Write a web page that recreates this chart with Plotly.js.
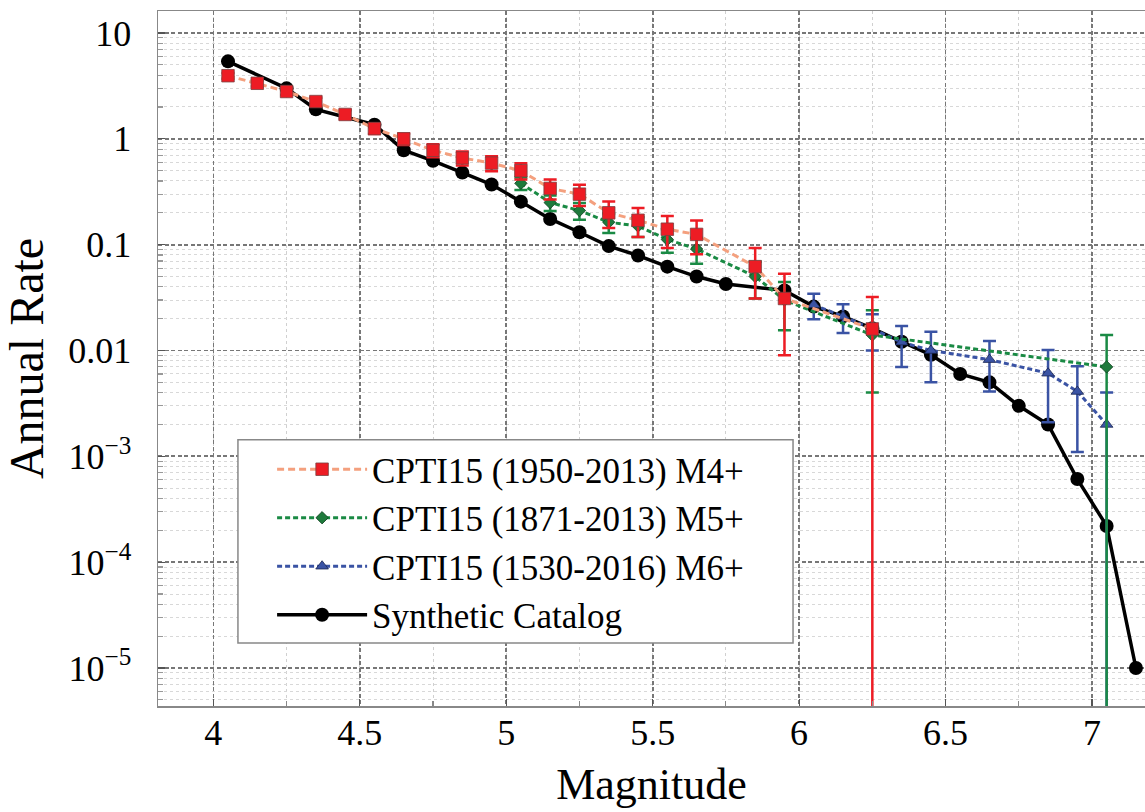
<!DOCTYPE html>
<html>
<head>
<meta charset="utf-8">
<script src="https://cdn.plot.ly/plotly-3.0.1.min.js"></script>
<style>
html,body{margin:0;padding:0;background:#fff;}
#chart{width:1145px;height:812px;}
</style>
</head>
<body>
<div id="chart"></div>
<script>
// ---- data ----
const redX   = [4.05,4.15,4.25,4.35,4.45,4.55,4.65,4.75,4.85,4.95,5.05,5.15,5.25,5.35,5.45,5.55,5.65,5.85,5.95,6.25];
const redY   = [3.95,3.35,2.8,2.25,1.7,1.25,1.0,0.78,0.66,0.59,0.50,0.34,0.30,0.20,0.17,0.14,0.125,0.062,0.031,0.016];
const redErr = [0.25,0.23,0.21,0.19,0.16,0.14,0.125,0.11,0.10,0.096,0.088,0.073,0.068,0.056,0.052,0.047,0.044,0.031,0.022,0.016];

const greenX   = [5.05,5.15,5.25,5.35,5.45,5.55,5.65,5.85,5.95,6.25,7.05];
const greenY   = [0.38,0.25,0.21,0.163,0.15,0.112,0.091,0.050,0.030,0.014,0.007];
const greenErr = [0.052,0.042,0.038,0.034,0.032,0.028,0.025,0.019,0.0145,0.010,0.007];

const blueX   = [6.05,6.15,6.25,6.35,6.45,6.65,6.85,6.95,7.05];
const blueY   = [0.027,0.021,0.016,0.012,0.010,0.0082,0.0061,0.0041,0.002];
const blueErr = [0.0073,0.0064,0.006,0.005,0.005,0.0041,0.0040,0.003,0.002];

const synX = [4.05,4.25,4.35,4.55,4.65,4.75,4.85,4.95,5.05,5.15,5.25,5.35,5.45,5.55,5.65,5.75,5.95,6.05,6.15,6.25,6.35,6.45,6.55,6.65,6.75,6.85,6.95,7.05,7.15];
const synY = [5.4,3.0,1.9,1.36,0.78,0.62,0.48,0.37,0.255,0.175,0.131,0.097,0.079,0.062,0.050,0.0425,0.037,0.026,0.021,0.0162,0.0121,0.0091,0.0060,0.0050,0.0030,0.0020,0.00061,0.00022,0.00001];

const xTickVals = [4,4.5,5,5.5,6,6.5,7];
const xTickText = ['4','4.5','5','5.5','6','6.5','7'];
const yTickVals = [10,1,0.1,0.01,1e-3,1e-4,1e-5];
const yTickText = ['10','1','0.1','0.01','10<sup>\u22123</sup>','10<sup>\u22124</sup>','10<sup>\u22125</sup>'];

const names = ['CPTI15 (1950-2013) M4+','CPTI15 (1871-2013) M5+','CPTI15 (1530-2016) M6+','Synthetic Catalog'];

// minor log tick positions (2..9 within each decade)
const yMinor = [];
for (let k = -6; k <= 1; k++) for (let m = 2; m <= 9; m++) yMinor.push(m * Math.pow(10, k));

const FONT = 'Liberation Serif, Times New Roman, serif';

const traces = [
  {
    x: synX, y: synY, name: names[3], legendrank: 4,
    mode: 'lines+markers', type: 'scatter',
    line: {color: '#000000', width: 3.5},
    marker: {symbol: 'circle', size: 14, color: '#000000'}
  },
  {
    x: blueX, y: blueY, name: names[2], legendrank: 3,
    mode: 'lines+markers', type: 'scatter',
    line: {color: '#3a53a4', width: 3, dash: '5px,3px'},
    marker: {symbol: 'triangle-up', size: 11, color: '#3a53a4', line: {color: '#1a2650', width: 0.8}},
    error_y: {type: 'data', array: blueErr, arrayminus: blueErr, visible: true, color: '#3a53a4', thickness: 2.5, width: 6.5}
  },
  {
    x: greenX, y: greenY, name: names[1], legendrank: 2,
    mode: 'lines+markers', type: 'scatter',
    line: {color: '#1a8a44', width: 3, dash: '5px,3px'},
    marker: {symbol: 'diamond', size: 9.5, color: '#1e7a3c', line: {color: '#0b3d1c', width: 0.8}},
    error_y: {type: 'data', array: greenErr, arrayminus: greenErr, visible: true, color: '#1a8a44', thickness: 2.5, width: 6.5}
  },
  {
    x: redX, y: redY, name: names[0], legendrank: 1,
    mode: 'lines+markers', type: 'scatter',
    line: {color: '#f4a07e', width: 3, dash: '7px,4px'},
    marker: {symbol: 'square', size: 12.5, color: '#ed1c24', line: {color: '#7a4040', width: 0.8}},
    error_y: {type: 'data', array: redErr, arrayminus: redErr, visible: true, color: '#ed1c24', thickness: 2.5, width: 6.5}
  }
];

const layout = {
  width: 1145, height: 812,
  margin: {l: 158, r: 0, t: 11, b: 106, pad: 0},
  paper_bgcolor: '#ffffff', plot_bgcolor: '#ffffff',
  font: {family: FONT, size: 36, color: '#000'},
  showlegend: true,
  // legend frame drawn as a white box in paper space
  shapes: [{
    type: 'rect', xref: 'paper', yref: 'paper', layer: 'above',
    x0: 0.081, x1: 0.6434, y0: 0.0907, y1: 0.383,
    fillcolor: '#ffffff', line: {color: '#888888', width: 1.5}
  }],
  legend: {
    x: 0.1156, y: 0.236, xanchor: 'left', yanchor: 'middle',
    bgcolor: 'rgba(0,0,0,0)', borderwidth: 0,
    font: {family: FONT, size: 35, color: '#000'},
    itemwidth: 90, tracegroupgap: 0
  },
  xaxis: {
    type: 'linear', range: [3.811, 7.181],
    tickmode: 'array', tickvals: xTickVals, ticktext: xTickText,
    ticks: 'inside', ticklen: 7, tickwidth: 1.2, tickcolor: '#555',
    showline: true, linecolor: '#888', linewidth: 1.5, mirror: true,
    showgrid: true, gridcolor: '#777', gridwidth: 1.7, griddash: '4px,2.5px',
    zeroline: false,
    tickfont: {family: FONT, size: 36, color: '#000'},
    ticklabelstandoff: -6,
    minor: {tickmode: 'linear', tick0: 4, dtick: 0.25, ticks: 'inside', ticklen: 5, tickcolor: '#888',
            showgrid: true, gridcolor: '#d0d0d0', griddash: 'dot', gridwidth: 1},
    title: {text: 'Magnitude', font: {family: FONT, size: 44, color: '#000'}, standoff: 16}
  },
  yaxis: {
    type: 'log', range: [-5.359, 1.208],
    tickmode: 'array', tickvals: yTickVals, ticktext: yTickText,
    ticks: 'inside', ticklen: 7, tickwidth: 1.2, tickcolor: '#555',
    showline: true, linecolor: '#888', linewidth: 1.5, mirror: false,
    showgrid: true, gridcolor: '#777', gridwidth: 1.7, griddash: '4px,2.5px',
    zeroline: false,
    tickfont: {family: FONT, size: 36, color: '#000'},
    ticklabelstandoff: 18,
    minor: {tickmode: 'array', tickvals: yMinor, ticks: 'inside', ticklen: 5, tickcolor: '#999',
            showgrid: true, gridcolor: '#d8d8d8', griddash: 'dot', gridwidth: 1},
    title: {text: 'Annual Rate', font: {family: FONT, size: 48, color: '#000'}, standoff: 10}
  }
};

Plotly.newPlot('chart', traces, layout, {displayModeBar: false, staticPlot: true});
</script>
</body>
</html>
